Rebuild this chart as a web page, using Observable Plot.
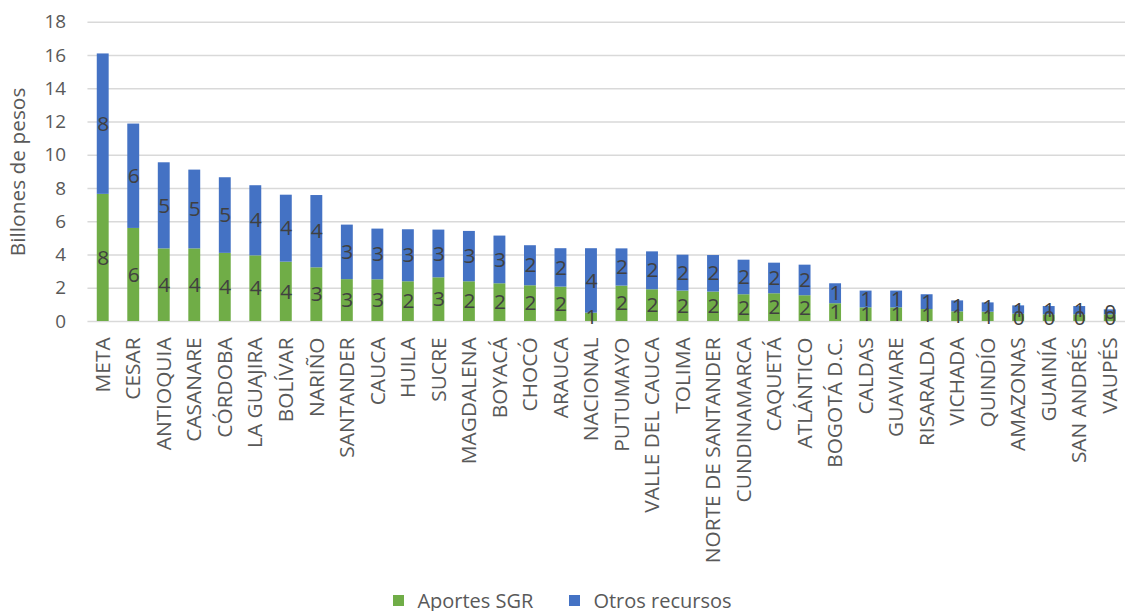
<!DOCTYPE html>
<html>
<head>
<meta charset="utf-8">
<script src="https://cdn.jsdelivr.net/npm/d3@7"></script>
<script src="https://cdn.jsdelivr.net/npm/@observablehq/plot@0.6"></script>
<style>
  html, body { margin: 0; padding: 0; background: #fff; overflow: hidden; }
  #chart svg { display: block; }
  .legend { box-sizing: border-box; width: 1125px; height: 25px; padding-top: 4px; display: flex; justify-content: center; align-items: center; font-family: "Open Sans", sans-serif; font-size: 20px; line-height: 21px; color: #595959; }
  .legend .item { display: flex; align-items: center; }
  .legend .sw { width: 11px; height: 11px; display: inline-block; margin-right: 13px; }
</style>
</head>
<body>
<div id="chart"></div>
<div class="legend" id="legend"></div>
<script>
const categories = ["META","CESAR","ANTIOQUIA","CASANARE","CÓRDOBA","LA GUAJIRA","BOLÍVAR","NARIÑO","SANTANDER","CAUCA","HUILA","SUCRE","MAGDALENA","BOYACÁ","CHOCÓ","ARAUCA","NACIONAL","PUTUMAYO","VALLE DEL CAUCA","TOLIMA","NORTE DE SANTANDER","CUNDINAMARCA","CAQUETÁ","ATLÁNTICO","BOGOTÁ D.C.","CALDAS","GUAVIARE","RISARALDA","VICHADA","QUINDÍO","AMAZONAS","GUAINÍA","SAN ANDRÉS","VAUPÉS"];
const aportesSGR = [7.65,5.6,4.37,4.37,4.1,3.95,3.57,3.23,2.52,2.51,2.39,2.63,2.39,2.27,2.15,2.07,0.5,2.13,1.91,1.83,1.77,1.61,1.67,1.55,1.07,0.82,0.82,0.72,0.58,0.56,0.44,0.4,0.4,0.4];
const otrosRecursos = [8.45,6.28,5.18,4.74,4.55,4.22,4.03,4.35,3.28,3.05,3.13,2.87,3.03,2.87,2.41,2.31,3.88,2.24,2.28,2.16,2.2,2.08,1.84,1.84,1.2,1.01,1.01,0.89,0.66,0.56,0.5,0.5,0.5,0.3];
const seriesNames = ["Aportes SGR","Otros recursos"];
const seriesColors = ["#70AD47","#4472C4"];
const yTicks = [0,2,4,6,8,10,12,14,16,18];

const data = [];
categories.forEach((c, i) => {
  data.push({cat: c, series: seriesNames[0], value: aportesSGR[i]});
  data.push({cat: c, series: seriesNames[1], value: otrosRecursos[i]});
});

const chart = Plot.plot({
  width: 1132,
  height: 590,
  marginLeft: 88,
  marginRight: 0,
  marginTop: 22,
  marginBottom: 267,
  style: {fontFamily: "'Open Sans', sans-serif", color: "#595959", background: "#fff"},
  x: {domain: categories, paddingInner: 0.61, paddingOuter: 0.305, round: false, label: null},
  y: {domain: [0, 18], label: null},
  color: {domain: seriesNames, range: seriesColors},
  marks: [
    Plot.gridY(yTicks, {stroke: "#D9D9D9", strokeOpacity: 1, strokeWidth: 1.5}),
    Plot.barY(data, Plot.stackY({x: "cat", y: "value", z: "series", fill: "series"})),
    Plot.text(data, Plot.stackY({x: "cat", y: "value", z: "series", text: d => String(Math.round(d.value)), fill: "#404040", fontSize: 21})),
    Plot.axisX({tickRotate: -90, tickSize: 0, tickPadding: 16, fontSize: 21, fill: "#595959"}),
    Plot.axisY({ticks: yTicks, tickSize: 0, tickPadding: 22, fontSize: 19, fill: "#595959", label: null}),
    Plot.text(["Billones de pesos"], {frameAnchor: "left", textAnchor: "middle", rotate: -90, dx: -70, fontSize: 21, fill: "#595959"})
  ]
});
document.getElementById("chart").appendChild(chart);

const legend = document.getElementById("legend");
seriesNames.forEach((n, i) => {
  const item = document.createElement("span");
  item.className = "item";
  if (i > 0) item.style.marginLeft = "36px";
  const sw = document.createElement("span");
  sw.className = "sw";
  sw.style.background = seriesColors[i];
  item.appendChild(sw);
  item.appendChild(document.createTextNode(n));
  legend.appendChild(item);
});
</script>
</body>
</html>
